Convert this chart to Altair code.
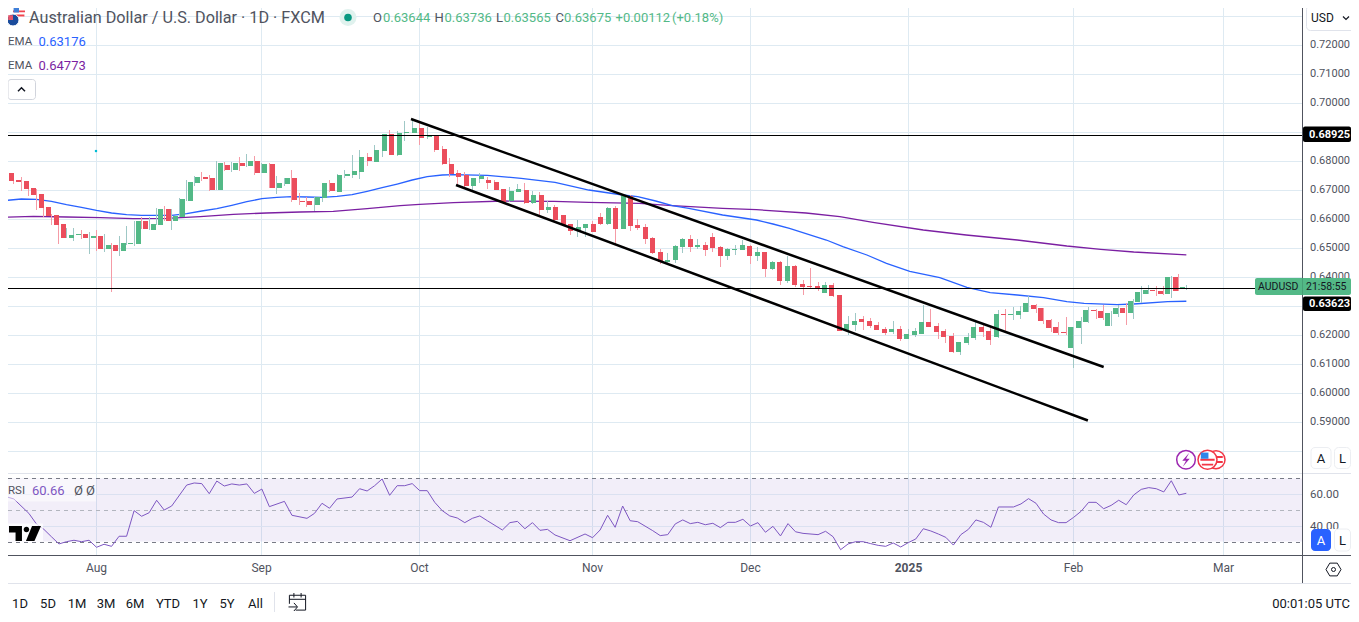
import altair as alt
import pandas as pd

# ---------- data ----------
first_bar = 2
opens = [.67598,.67356,.67322,.67080,.66874,.66425,.66149,.65839,.65356,.65460,
.65494,.65356,.65425,.64977,.65115,.64908,.65149,.65149,.65943,.65632,
.65805,.66356,.65943,.66080,.66632,.67253,.67460,.67425,.67011,.67874,
.67701,.67943,.67839,.68011,.67598,.67908,.67080,.67218,.67425,.66632,
.66632,.66494,.66736,.67253,.66943,.67494,.67529,.67632,.68149,.67977,
.68356,.68943,.68218,.68977,.68977,.69149,.68839,.68874,.68425,.67908,
.67598,.67529,.67149,.67391,.67356,.67287,.67046,.66632,.66943,.67011,
.66563,.66839,.66322,.66425,.66149,.65839,.65598,.65701,.65839,.66080,
.65839,.66391,.65667,.66805,.65805,.65736,.65356,.64874,.64529,.64598,
.65046,.65322,.65046,.65115,.65391,.65046,.64736,.64943,.64943,.65080,
.64736,.64874,.64287,.64529,.63874,.64391,.63770,.63701,.63701,.63460,
.63736,.63391,.62149,.62356,.62563,.62494,.62356,.62218,.62115,.62218,
.61874,.62011,.62046,.62460,.62322,.62149,.61977,.61425,.61736,.61908,
.62287,.62149,.61943,.62736,.62701,.62701,.62805,.63046,.62943,.62529,
.62287,.62115,.61563,.62253,.62460,.62874,.62839,.62322,.62736,.62943,
.62770,.63149,.63425,.63563,.63529,.63425,.64011,.63644]
highs = [.67667,.67563,.67460,.67115,.67046,.66460,.66184,.65839,.65701,.65701,
.65632,.65563,.65632,.65494,.65184,.65425,.65770,.65943,.66080,.66080,
.66391,.66460,.66356,.66736,.67356,.67494,.67632,.67529,.68011,.67977,
.67977,.68149,.68253,.68184,.67943,.67943,.67494,.67425,.67701,.66908,
.66770,.66770,.67253,.67356,.67563,.67701,.68218,.68391,.68287,.68563,
.68943,.69080,.69046,.69391,.69425,.69322,.69184,.68874,.68529,.68115,
.67701,.67632,.67425,.67598,.67460,.67356,.67046,.67115,.67218,.67253,
.66977,.66943,.66632,.66494,.66149,.65839,.65977,.65839,.65943,.66218,
.66425,.66460,.66874,.66839,.66011,.65839,.65391,.64977,.64839,.65115,
.65356,.65460,.65322,.65218,.65529,.65080,.65011,.65115,.65287,.65115,
.65046,.64874,.64563,.64563,.64736,.64425,.63908,.64322,.63839,.63839,
.63805,.63391,.62667,.62770,.62667,.62598,.62460,.62287,.62494,.62322,
.62218,.62253,.63046,.62908,.62425,.62218,.62080,.61770,.62080,.62494,
.62425,.62287,.62874,.62908,.62977,.63012,.63356,.63080,.62943,.62563,
.62460,.62632,.62287,.62632,.62977,.62908,.63046,.62839,.63046,.63115,
.63253,.63701,.63736,.63701,.63701,.64046,.64115,.63736]
lows = [.67149,.67218,.66977,.66805,.66322,.66092,.65793,.65149,.65356,.65253,
.65322,.64805,.64908,.64874,.63494,.64736,.65115,.65080,.65655,.65632,
.65805,.65931,.65632,.66080,.66632,.67149,.67322,.66977,.67011,.67667,
.67632,.67667,.67805,.67529,.67598,.67080,.66874,.67149,.66598,.66494,
.66425,.66287,.66598,.66943,.66943,.67425,.67425,.67391,.67839,.67977,
.68149,.68207,.68184,.68701,.68977,.68563,.68770,.68322,.67874,.67460,
.67149,.67126,.67011,.67253,.67046,.67011,.66598,.66598,.66943,.66529,
.66529,.66149,.66218,.65943,.65770,.65460,.65391,.65391,.65563,.65805,
.65805,.65149,.65667,.65598,.65632,.65149,.64805,.64460,.64460,.64494,
.64839,.64874,.64977,.64736,.64874,.64356,.64598,.64770,.64943,.64460,
.64563,.64011,.64253,.63736,.63805,.63667,.63391,.63632,.63529,.63460,
.63322,.62149,.62011,.62149,.62184,.62253,.62184,.62011,.62046,.61805,
.61874,.61943,.62046,.62287,.61874,.61736,.61391,.61322,.61667,.61839,
.61943,.61667,.61908,.62080,.62529,.62563,.62805,.62770,.62391,.62115,
.62011,.62011,.60874,.61701,.62425,.62563,.62529,.62322,.62632,.62356,
.62563,.63115,.63425,.63356,.63391,.63287,.63529,.63565]
closes = [.67322,.67287,.67046,.66839,.66391,.66115,.65805,.65356,.65460,.65494,
.65356,.65425,.64977,.65115,.64908,.65184,.65184,.65943,.65667,.65839,
.66356,.65943,.66115,.66701,.67287,.67460,.67391,.67011,.67943,.67701,
.67943,.67839,.68011,.67598,.67908,.67080,.67253,.67425,.66667,.66598,
.66494,.66770,.67253,.66977,.67529,.67563,.67667,.68149,.68011,.68391,
.68943,.68218,.68977,.69011,.69149,.68805,.68874,.68391,.67908,.67563,
.67460,.67149,.67425,.67494,.67253,.67011,.66598,.66977,.67046,.66563,
.66839,.66322,.66425,.65977,.65805,.65598,.65736,.65839,.65563,.65839,
.66391,.65667,.66839,.65770,.65701,.65322,.64839,.64529,.64598,.65080,
.65322,.65046,.65115,.64943,.65011,.64736,.64977,.64977,.65115,.64736,
.64874,.64287,.64529,.63874,.64391,.63736,.63667,.63667,.63598,.63736,
.63356,.62149,.62391,.62494,.62460,.62322,.62184,.62080,.62218,.61874,
.62046,.62149,.62460,.62287,.62115,.61943,.61425,.61770,.61943,.62287,
.62115,.61839,.62736,.62701,.62736,.62839,.63115,.62908,.62494,.62253,
.62080,.62080,.62287,.62494,.62874,.62839,.62598,.62770,.62943,.62770,
.63184,.63494,.63563,.63529,.63425,.64011,.63529,.63675]

ema50_bar = [1.2,4,6,8,10,12,14,16,18,20,22,24,26,28,30,32,34,36,38,40,42,44,46,48,50,52,54,56,58,60,61.5,66,70.5,75,79.5,84,86,88.4,90.6,92.8,97.3,101.8,104,106.2,111.1,113.3,116.5,119.1,122.2,126.2,129.8,132.9,136.5,140,143.1,145.4,149.8,152,156.5,159]
ema50_val = [.66632,.66701,.66690,.66621,.66506,.66414,.66310,.66218,.66161,.66138,.66138,.66138,.66195,.66287,.66368,.66483,.66609,.66713,.66759,.66782,.66770,.66759,.66793,.66851,.66966,.67092,.67218,.67356,.67471,.67529,.67540,.67517,.67414,.67276,.67011,.66839,.66782,.66632,.66471,.66379,.66149,.65977,.65839,.65690,.65287,.65057,.64770,.64483,.64207,.63989,.63655,.63471,.63391,.63299,.63161,.63103,.63057,.63080,.63161,.63176]
ema200_bar = [1.2,5.6,10,14.5,18.9,23.3,27.8,32.2,36.6,41.1,45.5,50,54.4,57,61.5,68.2,74.9,79.5,86.2,90.6,97.3,101.8,108.4,112.9,117.3,124,129.7,136.5,143.1,147.6,152,159]
ema200_val = [.66069,.66103,.66080,.66057,.66023,.66034,.66092,.66172,.66218,.66253,.66276,.66368,.66471,.66517,.66575,.66632,.66621,.66586,.66552,.66471,.66379,.66333,.66218,.66092,.65897,.65632,.65460,.65287,.65080,.64965,.64874,.64773]

rsi_bar = [1,2,3,5,6,7,8,9,10,11,12,13,14,15,16,17,18,19,20,21,22,23,24,26,27,28,29,30,31,32,33,34,35,36,37,39,40,42,43,44,45,46,48,49,50,51,52,53,54,55,56,57,58,59,60,61,62,63,64,65,66,68,69,70,71,72,73,74,75,77,79,80,81,82,83,84,85,86,88,
89,90,91,92,93,94,95,96,97,98,99,100,101,102,103,104,105,106,107,108,110,111,112,113,114,115,116,117,118,119,120,121,122,123,124,125,126,127,128,129,130,131,132,133,134,136,137,138,139,140,141,142,143,144,145,146,147,148,149,150,151,152,153,154,155,156,157,158,159]
rsi_val = [63.1,58.5,57.1,48.1,41.5,38.1,33.5,29.0,30.4,31.3,30.4,31.3,26.9,28.8,27.5,33.8,33.8,49.8,46.3,48.5,56.3,50.2,52.7,65.8,67.1,66.7,60.4,68.3,65.2,66.5,65.8,66.5,60.6,63.3,52.3,55.6,46.9,45.0,48.1,54.4,51.3,57.1,58.3,63.5,62.1,65.4,69.6,59.4,65.4,65.4,66.7,62.3,62.3,55.0,49.8,46.5,45.2,42.3,45.0,46.5,43.5,37.7,42.3,43.1,38.5,42.3,37.5,38.1,34.6,31.0,35.2,32.9,37.7,46.9,39.4,52.7,43.5,42.9,37.3,
34.2,34.8,41.5,44.0,41.7,42.5,41.0,41.9,39.2,42.5,42.5,44.4,40.2,42.3,36.3,40.0,34.0,41.7,36.6,35.6,34.8,36.9,33.5,25.4,29.0,30.4,30.4,29.2,28.1,27.5,29.6,27.1,29.8,32.1,38.5,37.1,35.2,33.1,28.3,34.8,38.1,44.0,42.5,39.4,52.1,52.1,54.0,57.3,54.4,47.7,44.0,42.3,42.3,45.6,49.4,55.0,55.0,51.0,53.1,56.3,53.5,59.6,63.1,64.2,63.5,61.5,68.5,59.6,60.66]

channel_bar = [55.84,148.0,61.83,145.9]
channel_val = [.69459,.60907,.67183,.59062]
channel_id = ["upper","upper","lower","lower"]

level_vals = [.68925,.63623]
level_labels = ["0.68925","0.63623"]
grid_prices = [.73,.72,.71,.70,.69,.68,.67,.66,.65,.64,.63,.62,.61,.60,.59,.58]
tick_prices = [.72,.71,.70,.68,.67,.66,.65,.64,.62,.61,.60,.59]
tick_labels = ["0.72000","0.71000","0.70000","0.68000","0.67000","0.66000","0.65000","0.64000","0.62000","0.61000","0.60000","0.59000"]
month_bars = [14,36,57,80,101,122,144,164]
month_labels = ["Aug","Sep","Oct","Nov","Dec","2025","Feb","Mar"]
marker_bar = [13.93]
marker_val = [.68355]
rsi_grid = [60,40]
rsi_dash = [70,50,30]
rsi_dash_color = ["#787b86","#b2b5be","#787b86"]
range_buttons = ["1D","5D","1M","3M","6M","YTD","1Y","5Y","All"]
range_x = [20,48,77,106,135,168,200,227,255.5]

# ---------- geometry ----------
W, H = 1343, 604
END_X, END_Y = 8 + W, 8 + H
def px(x): return x - 8
def py(y): return y - 8
GREEN, RED = "#53b987", "#eb4d5c"
GW, RW = "#9fc8c6", "#f59ba6"
GRID = "#deeaf2"
TXT = "#50535e"
FONT = "Roboto"
one = pd.DataFrame({"a": [0]})

bar_dom_round = [(8.5 - 6.33) / 7.516 + 2, (END_X + .5 - 6.33) / 7.516 + 2]
bar_dom = [(8 - 6.33) / 7.516 + 2, (END_X - 6.33) / 7.516 + 2]
x_round = alt.Scale(domain=bar_dom_round, round=True, nice=False, zero=False)
x_line = alt.Scale(domain=bar_dom, nice=False, zero=False)
p_dom = [.70 - (END_Y - 103.33) / 2900, .70 + (103.33 - 8) / 2900]
y_round = alt.Scale(domain=p_dom, round=True, nice=False, zero=False)
y_line = alt.Scale(domain=p_dom, nice=False, zero=False)
r_dom = [60 - (END_Y - 494.33) / 1.6, 60 + (494.33 - 8) / 1.6]
r_round = alt.Scale(domain=r_dom, round=True, nice=False, zero=False)
r_line = alt.Scale(domain=r_dom, nice=False, zero=False)

def X(f, s=x_round): return alt.X(f, scale=s, axis=None)
def Y(f, s=y_round): return alt.Y(f, scale=s, axis=None)

def txt(t, x, y, color=TXT, size=13, align="left", weight="normal"):
    return alt.Chart(pd.DataFrame({"t": [t]})).mark_text(
        font=FONT, fontSize=size, color=color, align=align, baseline="middle", fontWeight=weight
    ).encode(x=alt.value(px(x)), y=alt.value(py(y)), text="t:N")

def box(x1, y1, x2, y2, fill, stroke=None, radius=0, opacity=1.0):
    kw = dict(fill=fill, cornerRadius=radius, opacity=opacity)
    if stroke:
        kw.update(stroke=stroke, strokeWidth=1)
    return alt.Chart(one).mark_rect(**kw).encode(
        x=alt.value(px(x1)), x2=alt.value(px(x2)), y=alt.value(py(y1)), y2=alt.value(py(y2)))

def hline(y, x1, x2, color, w=1):
    return alt.Chart(one).mark_rule(color=color, strokeWidth=w).encode(
        x=alt.value(px(x1)), x2=alt.value(px(x2)), y=alt.value(py(y)))

def vline(x, y1, y2, color, w=1):
    return alt.Chart(one).mark_rule(color=color, strokeWidth=w).encode(
        x=alt.value(px(x)), y=alt.value(py(y1)), y2=alt.value(py(y2)))

def sym(shape, x, y, r, fill=None, stroke=None, sw=1):
    kw = dict(shape=shape, size=4 * r * r, opacity=1, strokeWidth=sw)
    kw.update(filled=fill is not None)
    if fill: kw["fill"] = fill
    kw["stroke"] = stroke if stroke else "transparent"
    return alt.Chart(one).mark_point(**kw).encode(x=alt.value(px(x)), y=alt.value(py(y)))

# ---------- tables ----------
bars = list(range(first_bar, first_bar + len(opens)))
candles = pd.DataFrame({"bar": bars, "o": opens, "h": highs, "l": lows, "c": closes})
candles["body"] = [GREEN if c >= o else RED for o, c in zip(opens, closes)]
candles["wick"] = [GW if c >= o else RW for o, c in zip(opens, closes)]
months = pd.DataFrame({"bar": month_bars, "t": month_labels})

layers = []

# grids
layers.append(alt.Chart(pd.DataFrame({"p": grid_prices})).mark_rule(color=GRID, yOffset=.5).encode(
    y=Y("p:Q"), x=alt.value(0), x2=alt.value(px(1302))))
layers.append(alt.Chart(pd.DataFrame({"bar": month_bars})).mark_rule(color=GRID, xOffset=.5).encode(
    x=X("bar:Q"), y=alt.value(0), y2=alt.value(py(555))))

# RSI pane
layers.append(box(0, 478.5, 1302, 541.5, "#7e57c2", opacity=.1))
layers.append(alt.Chart(pd.DataFrame({"r": rsi_grid})).mark_rule(color="#dbe1f1", yOffset=.5).encode(
    y=Y("r:Q", r_round), x=alt.value(0), x2=alt.value(px(1302))))
layers.append(alt.Chart(pd.DataFrame({"r": rsi_dash, "col": rsi_dash_color})).mark_rule(
    strokeDash=[4, 4], yOffset=.5).encode(
    y=Y("r:Q", r_round), x=alt.value(0), x2=alt.value(px(1302)), color=alt.Color("col:N", scale=None)))
layers.append(alt.Chart(pd.DataFrame({"bar": rsi_bar, "r": rsi_val})).mark_line(
    color="#7e57c2", strokeWidth=1, clip=True).encode(x=X("bar:Q", x_line), y=Y("r:Q", r_line)))

# EMAs
layers.append(alt.Chart(pd.DataFrame({"bar": ema200_bar, "v": ema200_val})).mark_line(
    color="#7b1fa2", strokeWidth=1.3, clip=True).encode(x=X("bar:Q", x_line), y=Y("v:Q", y_line)))
layers.append(alt.Chart(pd.DataFrame({"bar": ema50_bar, "v": ema50_val})).mark_line(
    color="#2962ff", strokeWidth=1.3, clip=True).encode(x=X("bar:Q", x_line), y=Y("v:Q", y_line)))

# candles
layers.append(alt.Chart(candles).mark_rule(xOffset=.5, strokeWidth=1).encode(
    x=X("bar:Q"), y=Y("h:Q"), y2="l:Q", color=alt.Color("wick:N", scale=None)))
layers.append(alt.Chart(candles).mark_bar(size=5, xOffset=.5).encode(
    x=X("bar:Q"), y=Y("o:Q"), y2="c:Q", color=alt.Color("body:N", scale=None)))

# marker, levels, channel
layers.append(alt.Chart(pd.DataFrame({"bar": marker_bar, "v": marker_val})).mark_point(
    shape="square", size=5, filled=True, color="#00bcd4", opacity=1).encode(
    x=X("bar:Q", x_line), y=Y("v:Q", y_line)))
layers.append(alt.Chart(pd.DataFrame({"p": level_vals})).mark_rule(color="#000000", yOffset=.5).encode(
    y=Y("p:Q"), x=alt.value(0), x2=alt.value(px(1303))))
layers.append(alt.Chart(pd.DataFrame({"bar": channel_bar, "v": channel_val, "id": channel_id})).mark_line(
    color="#000000", strokeWidth=2.5).encode(
    x=X("bar:Q", x_line), y=Y("v:Q", y_line), detail="id:N"))

# frame lines
layers.append(box(1303, 0, END_X, 583, "#ffffff"))
layers.append(hline(473.5, 0, END_X, "#e0e3eb"))
layers.append(hline(555.5, 0, END_X, "#50535e"))
layers.append(hline(583.5, 0, END_X, "#e0e3eb"))
layers.append(vline(1302.5, 0, 583, "#50535e"))

# price axis labels
layers.append(alt.Chart(pd.DataFrame({"p": tick_prices, "t": tick_labels})).mark_text(
    font=FONT, fontSize=11, color=TXT, align="left", baseline="middle", x=px(1310)).encode(
    y=Y("p:Q", y_line), text="t:N"))
layers.append(txt("60.00", 1310, 494.5, size=11.5))
layers.append(txt("40.00", 1310, 526.5, size=11.5))

# time axis labels
layers.append(alt.Chart(months[months.t != "2025"]).mark_text(
    font=FONT, fontSize=12, color=TXT, align="center", baseline="middle", dx=.5).encode(
    x=X("bar:Q"), y=alt.value(py(568)), text="t:N"))
layers.append(alt.Chart(months[months.t == "2025"]).mark_text(
    font=FONT, fontSize=12, color=TXT, align="center", baseline="middle", dx=.5, fontWeight="bold").encode(
    x=X("bar:Q"), y=alt.value(py(568)), text="t:N"))

# price tags
layers.append(box(1303, 126.5, END_X, 142, "#000000", radius=2))
layers.append(txt(level_labels[0], 1309, 134.5, "#ffffff", 11, weight="bold"))
layers.append(box(1255, 278, END_X, 295, GREEN, radius=2))
layers.append(vline(1302.5, 278, 295, "#47a077"))
layers.append(txt("AUDUSD", 1258, 287, "#131722", 10.5))
layers.append(txt("21:58:55", 1306, 287, "#131722", 10.5))
layers.append(box(1303, 296.5, END_X, 311, "#000000", radius=2))
layers.append(txt(level_labels[1], 1309, 303.5, "#ffffff", 11, weight="bold"))

# top right currency
layers.append(box(1306.5, 5.5, END_X + 4, 30.5, "#ffffff", "#e0e3eb", 4))
layers.append(txt("USD", 1311, 17.5, "#131722", 12))
layers.append(sym("M-1,-.5L0,.5L1,-.5", 1346, 18, 3, None, "#131722", 1.2))

# A / L buttons
layers.append(box(1303, 529, END_X, 555, "#ffffff"))
layers.append(box(1311, 447.5, 1331, 468.5, "#ffffff", "#eceef2", 4))
layers.append(box(1334.5, 447.5, 1350.5, 468.5, "#ffffff", "#eceef2", 4))
layers.append(txt("A", 1321, 458.5, "#131722", 13, "center"))
layers.append(txt("L", 1342.5, 458.5, "#131722", 13, "center"))
layers.append(box(1311, 529, 1331, 551, "#2962ff", None, 4))
layers.append(box(1334.5, 529, 1350.5, 551, "#ffffff", "#eceef2", 4))
layers.append(txt("A", 1321, 540.5, "#ffffff", 13, "center"))
layers.append(txt("L", 1342.5, 540.5, "#131722", 13, "center"))
# settings hexagon
layers.append(sym("M-1,0L-.5,-.85L.5,-.85L1,0L.5,.85L-.5,.85Z", 1333.5, 569.5, 7.5, None, "#131722", 1))
layers.append(sym("circle", 1333.5, 569.5, 2, None, "#131722", 1))

# legend block
layers.append(sym("circle", 19, 12.5, 6, "#ffffff", None))
layers.append(sym("M-1,-.35H1V-.05H-1ZM-.9,.35H.9V.65H-.9Z", 19, 12.5, 6, "#f0444f", None))
layers.append(sym("M-.9,-.8H0V0H-.9Z", 19, 12.5, 6, "#3f7fd8", None))
layers.append(sym("circle", 13, 20, 6, "#1b4c9c", "#ffffff", 1))
layers.append(sym("M-.8,-.8H0V0H-.8Z", 13, 20, 6, "#e8566a", None))
layers.append(txt("Australian Dollar / U.S. Dollar \u00b7 1D \u00b7 FXCM", 29, 18, TXT, 16.2))
layers.append(sym("circle", 348, 17.5, 8.5, "#e0f2ee", None))
layers.append(sym("circle", 348, 17.5, 3.8, "#089981", None))
for lab, val, x_l, x_v in [("O", "0.63644", 373, 383), ("H", "0.63736", 434.5, 444.5),
                          ("L", "0.63565", 496, 503.5), ("C", "0.63675", 555.5, 564)]:
    layers.append(txt(lab, x_l, 18, TXT, 13))
    layers.append(txt(val, x_v, 18, GREEN, 13))
layers.append(txt("+0.00112", 615.5, 18, GREEN, 13))
layers.append(txt("(+0.18%)", 672, 18, GREEN, 13))
layers.append(txt("EMA", 8, 41.5, TXT, 11.5))
layers.append(txt("0.63176", 38.5, 41.5, "#2962ff", 13))
layers.append(txt("EMA", 8, 65.5, TXT, 11.5))
layers.append(txt("0.64773", 38.5, 65.5, "#7b1fa2", 13))
layers.append(box(8, 79.5, 35.5, 99.5, "#ffffff", "#d1d4dc", 3))
layers.append(sym("M-1,.5L0,-.5L1,.5", 21.5, 89.5, 3.5, None, "#131722", 1.5))

# RSI legend
layers.append(box(8, 479, 96, 501.5, "#ffffff", None, 0, .5))
layers.append(txt("RSI", 8, 490.5, TXT, 11.5))
layers.append(txt("60.66", 32, 490.5, "#7e57c2", 13))
layers.append(txt("\u00d8", 74, 490.5, TXT, 13))
layers.append(txt("\u00d8", 86, 490.5, TXT, 13))

# logo
layers.append(box(8, 523.5, 43, 541.5, "#ffffff", None, 0, .75))
layers.append(sym("M-1,-.47H-.19V.47H-.59V-.06H-1ZM-.085,-.25a.175,.175 0 1,0 .35,0a.175,.175 0 1,0 -.35,0ZM.44,-.47H1L.59,.47H.06Z",
                  25, 533.5, 16, "#000000", None))

# event icons
layers.append(sym("circle", 1216, 459.7, 9, "#ffffff", "#f23645", 1.5))
layers.append(sym("M-.75,-.42H.75V-.2H-.75ZM-.75,.15H.75V.37H-.75Z", 1216, 459.7, 9, "#f23645", None))
layers.append(sym("circle", 1207.5, 459.7, 9.5, "#ffffff", "#f23645", 1.5))
layers.append(sym("M-.75,-.1H.75V.12H-.75ZM-.6,.42H.6V.62H-.6Z", 1207.5, 459.7, 9.5, "#f23645", None))
layers.append(sym("M-.7,-.75H.1V-.1H-.7Z", 1207.5, 459.7, 9.5, "#2f86e8", None))
layers.append(sym("circle", 1186, 459.7, 9.3, "#ffffff", "#9c27b0", 1.5))
layers.append(sym("M.35,-.75L-.4,.1H0L-.35,.75L.4,-.1H0Z", 1186, 459.7, 9.3, "#9c27b0", None))

# bottom toolbar
for t, x in zip(range_buttons, range_x):
    layers.append(txt(t, x, 603.5, "#131722", 13, "center"))
layers.append(vline(274.5, 592, 612, "#e0e3eb"))
layers.append(sym("M-.2,.9H.9V-.75H-.9V.2M-.9,-.3H.9M-.4,-1V-.5M.4,-1V-.5M-1,.55H-.05M-.4,.1L0,.55L-.4,1",
                  297.5, 602, 9, None, "#131722", 1))
layers.append(txt("00:01:05 UTC", 1350, 603.5, "#131722", 13, "right"))

chart = alt.layer(*layers).resolve_scale(x="independent", y="independent", color="independent").properties(
    width=W, height=H, padding=0, autosize=alt.AutoSizeParams(type="none"), background="#ffffff"
).configure_view(stroke=None)

chart.save("out.html", embed_options={"renderer": "svg", "actions": False})
